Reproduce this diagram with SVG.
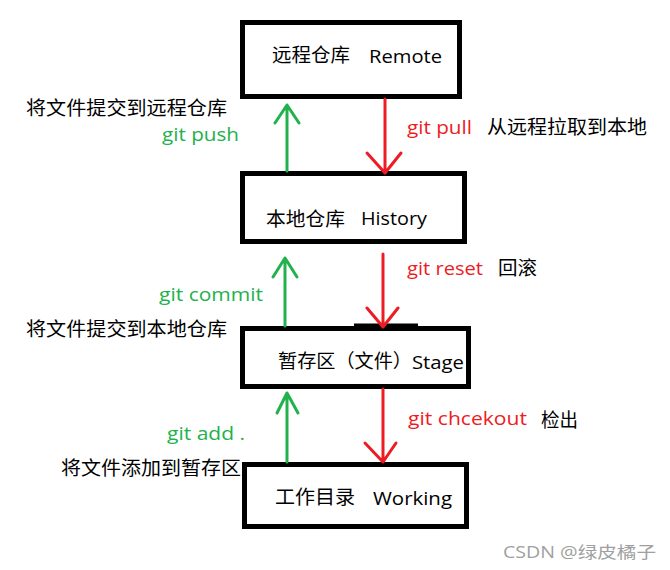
<svg xmlns="http://www.w3.org/2000/svg" width="670" height="570" viewBox="0 0 670 570">
<style>
.box{fill:#fff;stroke:#000;stroke-width:5}
text{font-family:"Open Sans","Noto Sans CJK SC",sans-serif;font-size:19px;fill:#000}
.g{fill:#22b14c}
.r{fill:#ed1c24}
.ga{stroke:#22b14c;stroke-width:3;fill:none;stroke-linecap:round;stroke-linejoin:round}
.ra{stroke:#ed1c24;stroke-width:3;fill:none;stroke-linecap:round;stroke-linejoin:round}
.wm{font-size:16px;fill:#a0a0a0}
</style>
<rect width="670" height="570" fill="#fff"/>
<g id="remote">
<rect class="box" x="242.5" y="22.5" width="217" height="74"/>
<text x="272" y="62" textLength="78" lengthAdjust="spacingAndGlyphs">远程仓库</text>
<text x="369" y="63" textLength="73" lengthAdjust="spacingAndGlyphs">Remote</text>
</g>
<g id="history">
<rect class="box" x="242.5" y="173.5" width="222" height="68"/>
<text x="266" y="226" textLength="79" lengthAdjust="spacingAndGlyphs">本地仓库</text>
<text x="361" y="225" textLength="66" lengthAdjust="spacingAndGlyphs">History</text>
</g>
<g id="stage">
<rect class="box" x="242.5" y="328.5" width="226" height="58"/>
<line x1="354" y1="325" x2="418" y2="325" stroke="#000" stroke-width="3"/>
<text x="278" y="368" textLength="134" lengthAdjust="spacingAndGlyphs">暂存区（文件）</text>
<text x="412" y="369" textLength="52" lengthAdjust="spacingAndGlyphs">Stage</text>
</g>
<g id="working">
<rect class="box" x="244.5" y="464.5" width="222" height="62"/>
<text x="275" y="504" textLength="80" lengthAdjust="spacingAndGlyphs">工作目录</text>
<text x="373" y="505" textLength="79" lengthAdjust="spacingAndGlyphs">Working</text>
</g>
<g id="connectors">
<path class="ga" d="M287 171V105M275 123L287 105L299 123"/>
<path class="ra" d="M385 99V173M367 153L385 173L401 153"/>
<path class="ga" d="M285 326V258M273 277L285 258L297 277"/>
<path class="ra" d="M383 254V327M367 308L383 327L398 308"/>
<path class="ga" d="M287 462V393M277 413L287 393L298 413"/>
<path class="ra" d="M383 389V462M365 443L383 462L396 443"/>
</g>
<g id="labels">
<text x="26" y="115" textLength="201" lengthAdjust="spacingAndGlyphs">将文件提交到远程仓库</text>
<text class="g" x="162" y="141" textLength="77" lengthAdjust="spacingAndGlyphs">git push</text>
<text class="r" x="407" y="134" textLength="65" lengthAdjust="spacingAndGlyphs">git pull</text>
<text x="487" y="134" textLength="160" lengthAdjust="spacingAndGlyphs">从远程拉取到本地</text>
<text class="g" x="159" y="301" textLength="104" lengthAdjust="spacingAndGlyphs">git commit</text>
<text x="26" y="336" textLength="201" lengthAdjust="spacingAndGlyphs">将文件提交到本地仓库</text>
<text class="r" x="407" y="275" textLength="76" lengthAdjust="spacingAndGlyphs">git reset</text>
<text x="498" y="275" textLength="39" lengthAdjust="spacingAndGlyphs">回滚</text>
<text class="g" x="167" y="440" textLength="78" lengthAdjust="spacingAndGlyphs">git add .</text>
<text x="61" y="475" textLength="180" lengthAdjust="spacingAndGlyphs">将文件添加到暂存区</text>
<text class="r" x="408" y="425" textLength="119" lengthAdjust="spacingAndGlyphs">git chcekout</text>
<text x="541" y="427" textLength="37" lengthAdjust="spacingAndGlyphs">检出</text>
<text class="wm" x="503" y="558" textLength="153" lengthAdjust="spacingAndGlyphs">CSDN @绿皮橘子</text>
</g>
</svg>
